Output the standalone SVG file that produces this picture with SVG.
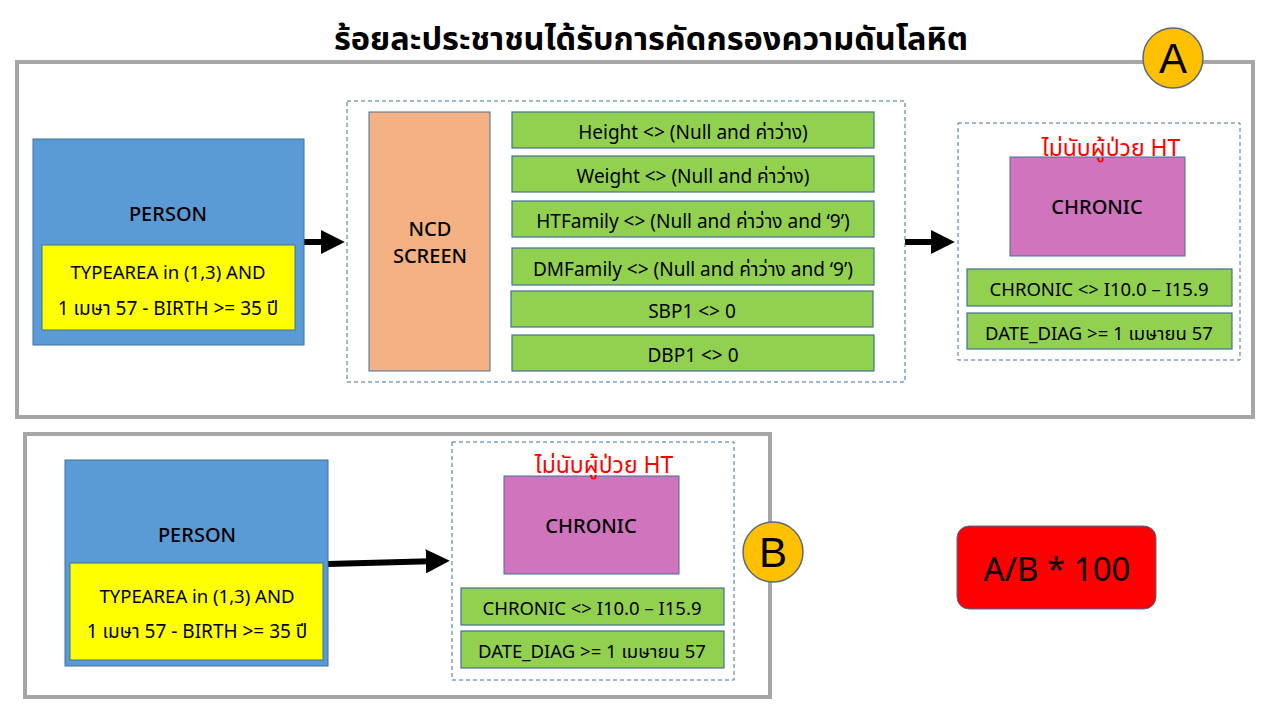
<svg xmlns="http://www.w3.org/2000/svg" width="1277" height="716" viewBox="0 0 1277 716">
<defs>
<style>
text{font-family:"Noto Sans","Noto Sans Thai","DejaVu Sans",sans-serif;fill:#000;text-anchor:middle}
.frame{fill:#fff;stroke:#a6a6a6;stroke-width:4}
.dash{fill:none;stroke:#41719c;stroke-width:1;stroke-dasharray:4 3}
.person{fill:#5b9bd5;stroke:#41719c;stroke-width:1}
.yel{fill:#ffff00;stroke:#41719c;stroke-width:1}
.green{fill:#92d050;stroke:#41719c;stroke-width:1.2}
.ncd{fill:#f4b183;stroke:#41719c;stroke-width:1}
.chr{fill:#cf74bd;stroke:#41719c;stroke-width:1}
.badge{fill:#ffc000;stroke:#5a6a7a;stroke-width:1.5}
.t18{font-size:18.5px}
.t19{font-size:19px}
.lbl{font-size:20px;font-weight:500}
.red{fill:#ff0000;font-size:23px}
.conn{stroke:#000;stroke-width:6;fill:none}
</style>
<marker id="ah" markerWidth="4" markerHeight="4" refX="2.2" refY="2" orient="auto" markerUnits="strokeWidth">
<path d="M0,0 L4,2 L0,4 z" fill="#000"/>
</marker>
</defs>
<rect width="1277" height="716" fill="#fff"/>
<text id="title" x="651" y="50" style="font-size:32.5px;font-weight:bold">ร้อยละประชาชนได้รับการคัดกรองความดันโลหิต</text>

<rect class="frame" x="17" y="62" width="1236" height="355"/>
<rect class="frame" x="25" y="434" width="745" height="263"/>

<g id="connectors">
<line class="conn" x1="304" y1="242" x2="334" y2="242" marker-end="url(#ah)"/>
<line class="conn" x1="905" y1="242" x2="944" y2="242" marker-end="url(#ah)"/>
<line class="conn" x1="328" y1="564" x2="439" y2="561" marker-end="url(#ah)"/>
</g>

<g id="personA">
<rect class="person" x="33" y="139" width="271" height="206"/>
<text class="lbl" x="168" y="221">PERSON</text>
<rect class="yel" x="42" y="245" width="253" height="85"/>
<text class="t18" x="168" y="279">TYPEAREA in (1,3) AND</text>
<text class="t19" x="168" y="315">1 เมษา 57 - BIRTH &gt;= 35 ปี</text>
</g>

<g id="ncdGroup">
<rect class="dash" x="347" y="101" width="558" height="281"/>
<rect class="ncd" x="369" y="112" width="121" height="259"/>
<text class="lbl" x="430" y="236">NCD</text>
<text class="lbl" x="430" y="263">SCREEN</text>
<rect class="green" x="512" y="112" width="362" height="36"/>
<text class="t19" x="693" y="139">Height &lt;&gt; (Null and ค่าว่าง)</text>
<rect class="green" x="512" y="156" width="362" height="36"/>
<text class="t19" x="693" y="183">Weight &lt;&gt; (Null and ค่าว่าง)</text>
<rect class="green" x="512" y="201" width="362" height="36"/>
<text class="t19" x="693" y="228">HTFamily &lt;&gt; (Null and ค่าว่าง and ‘9’)</text>
<rect class="green" x="512" y="248" width="362" height="37"/>
<text class="t19" x="693" y="276">DMFamily &lt;&gt; (Null and ค่าว่าง and ‘9’)</text>
<rect class="green" x="511" y="291" width="362" height="36"/>
<text class="t19" x="692" y="318">SBP1 &lt;&gt; 0</text>
<rect class="green" x="512" y="335" width="362" height="36"/>
<text class="t19" x="693" y="362">DBP1 &lt;&gt; 0</text>
</g>

<g id="chronicA">
<rect class="dash" x="958" y="123" width="282" height="237"/>
<rect class="chr" x="1010" y="157" width="175" height="99"/>
<text class="red" x="1111" y="156">ไม่นับผู้ป่วย HT</text>
<text class="lbl" x="1097" y="214">CHRONIC</text>
<rect class="green" x="967" y="269" width="265" height="37"/>
<text class="t18" x="1099" y="296">CHRONIC &lt;&gt; I10.0 – I15.9</text>
<rect class="green" x="967" y="313" width="265" height="36"/>
<text class="t18" x="1099" y="340">DATE_DIAG &gt;= 1 เมษายน 57</text>
</g>

<g id="badgeA">
<circle class="badge" cx="1173" cy="58" r="30"/>
<text x="1173" y="73" style="font-size:42px;font-family:'Liberation Sans',sans-serif">A</text>
</g>

<g id="personB">
<rect class="person" x="65" y="460" width="263" height="206"/>
<text class="lbl" x="197" y="542">PERSON</text>
<rect class="yel" x="70" y="563" width="253" height="97"/>
<text class="t18" x="197" y="603">TYPEAREA in (1,3) AND</text>
<text class="t19" x="197" y="638">1 เมษา 57 - BIRTH &gt;= 35 ปี</text>
</g>

<g id="chronicB">
<rect class="dash" x="452" y="442" width="282" height="238"/>
<rect class="chr" x="504" y="476" width="175" height="98"/>
<text class="red" x="604" y="473">ไม่นับผู้ป่วย HT</text>
<text class="lbl" x="591" y="533">CHRONIC</text>
<rect class="green" x="461" y="588" width="263" height="37"/>
<text class="t18" x="592" y="615">CHRONIC &lt;&gt; I10.0 – I15.9</text>
<rect class="green" x="461" y="631" width="263" height="37"/>
<text class="t18" x="592" y="658">DATE_DIAG &gt;= 1 เมษายน 57</text>
</g>

<g id="badgeB">
<circle class="badge" cx="773" cy="552" r="30"/>
<text x="773" y="567" style="font-size:42px;font-family:'Liberation Sans',sans-serif">B</text>
</g>

<g id="result">
<rect x="957" y="526" width="199" height="83" rx="12" fill="#ff0000" stroke="#41719c" stroke-width="1"/>
<text x="1057" y="581" style="font-size:33px">A/B * 100</text>
</g>
</svg>
